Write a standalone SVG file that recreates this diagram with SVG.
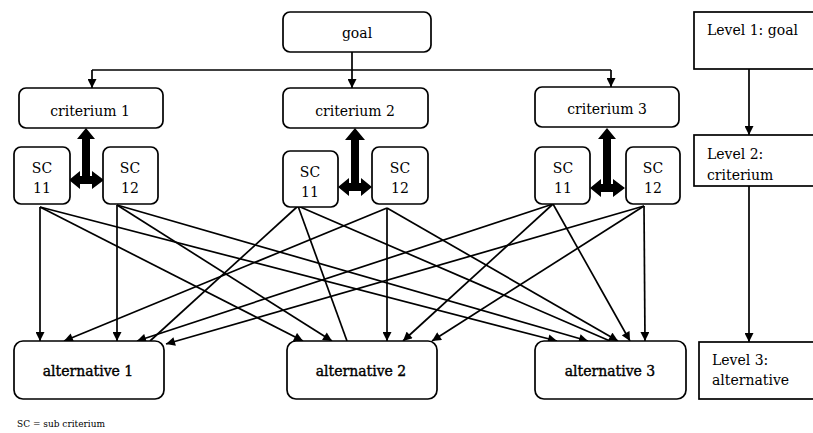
<svg xmlns="http://www.w3.org/2000/svg" width="813" height="433" viewBox="0 0 813 433">
<style>
.box{fill:#fff;stroke:#000;stroke-width:1.7}
.t{font-family:"DejaVu Serif","Liberation Serif",serif;font-size:14px;fill:#000;text-anchor:middle}
.tb{stroke:#000;stroke-width:0.4}
.tl{font-family:"DejaVu Serif","Liberation Serif",serif;font-size:14px;fill:#000}
.c{fill:none;stroke:#000;stroke-width:1.7}
.a{marker-end:url(#ah)}
.thick{fill:#000;stroke:none}
</style>
<defs>
<marker id="ah" viewBox="0 0 10 10" refX="10" refY="5" markerUnits="userSpaceOnUse" markerWidth="10" markerHeight="9" orient="auto">
<path d="M0,0 L10,5 L0,10 z" fill="#000"/>
</marker>
</defs>
<rect width="813" height="433" fill="#fff"/>

<g id="connectors">
<path class="c" d="M352,52 V88" marker-end="url(#ah)"/>
<path class="c" d="M92,70 H611"/>
<path class="c" d="M92,70 V88" marker-end="url(#ah)"/>
<path class="c" d="M611,70 V87" marker-end="url(#ah)"/>
<path class="c" d="M749,69 V135" marker-end="url(#ah)"/>
<path class="c" d="M749,186 V342" marker-end="url(#ah)"/>
<!-- SC11_1 -->
<line class="c a" x1="40" y1="207" x2="40" y2="341"/>
<line class="c a" x1="40" y1="207" x2="303" y2="341"/>
<line class="c a" x1="40" y1="207" x2="557" y2="341"/>
<!-- SC12_1 -->
<line class="c a" x1="117" y1="205" x2="117" y2="341"/>
<line class="c a" x1="117" y1="205" x2="332" y2="341"/>
<line class="c a" x1="117" y1="205" x2="588" y2="341"/>
<!-- SC11_2 -->
<line class="c" x1="298" y1="206" x2="150" y2="341"/>
<line class="c" x1="298" y1="206" x2="347" y2="341"/>
<line class="c" x1="298" y1="206" x2="610" y2="341"/>
<!-- SC12_2 -->
<line class="c a" x1="387" y1="208" x2="64" y2="341"/>
<line class="c a" x1="387" y1="208" x2="387" y2="341"/>
<line class="c a" x1="387" y1="208" x2="618" y2="341"/>
<!-- SC11_3 -->
<line class="c a" x1="553" y1="204" x2="137" y2="341"/>
<line class="c a" x1="553" y1="204" x2="403" y2="341"/>
<line class="c a" x1="553" y1="204" x2="630" y2="341"/>
<!-- SC12_3 -->
<line class="c a" x1="644" y1="206" x2="166" y2="344"/>
<line class="c a" x1="644" y1="206" x2="432" y2="341"/>
<line class="c a" x1="644" y1="206" x2="645" y2="341"/>
<!-- thick double arrows -->
<path class="thick" d="M86,128 L95,139 L90,139 L90,184 L82,184 L82,139 L77,139 Z"/>
<path class="thick" d="M69,180 L80,171 L80,176 L92,176 L92,171 L104,180 L92,189 L92,184 L80,184 L80,189 Z"/>
<path class="thick" d="M355,128 L365,140 L359,140 L359,191 L351,191 L351,140 L345,140 Z"/>
<path class="thick" d="M338,187 L349,178 L349,183 L361,183 L361,178 L372,187 L361,196 L361,191 L349,191 L349,196 Z"/>
<path class="thick" d="M607,128 L616,139 L611,139 L611,192 L603,192 L603,139 L598,139 Z"/>
<path class="thick" d="M590,188 L601,179 L601,184 L613,184 L613,179 L625,188 L613,197 L613,192 L601,192 L601,197 Z"/>
</g>

<g id="goal"><rect class="box" x="283" y="12" width="148" height="40" rx="7"/><text class="t" x="357" y="38">goal</text></g>
<g id="criterium1"><rect class="box" x="19" y="88" width="144" height="40" rx="7"/><text class="t" x="90" y="116">criterium 1</text></g>
<g id="criterium2"><rect class="box" x="283" y="88" width="145" height="40" rx="7"/><text class="t" x="355" y="116">criterium 2</text></g>
<g id="criterium3"><rect class="box" x="535" y="87" width="144" height="40" rx="7"/><text class="t" x="607" y="114">criterium 3</text></g>

<g id="sc11_1"><rect class="box" x="14" y="147" width="56" height="57" rx="7"/><text class="t" x="42" y="173">SC</text><text class="t" x="42" y="193">11</text></g>
<g id="sc12_1"><rect class="box" x="103" y="147" width="55" height="57" rx="7"/><text class="t" x="130" y="173">SC</text><text class="t" x="130" y="193">12</text></g>
<g id="sc11_2"><rect class="box" x="283" y="151" width="55" height="56" rx="7"/><text class="t" x="310" y="177">SC</text><text class="t" x="310" y="197">11</text></g>
<g id="sc12_2"><rect class="box" x="372" y="147" width="56" height="57" rx="7"/><text class="t" x="400" y="173">SC</text><text class="t" x="400" y="193">12</text></g>
<g id="sc11_3"><rect class="box" x="535" y="147" width="55" height="57" rx="7"/><text class="t" x="563" y="173">SC</text><text class="t" x="563" y="193">11</text></g>
<g id="sc12_3"><rect class="box" x="626" y="147" width="54" height="57" rx="7"/><text class="t" x="653" y="173">SC</text><text class="t" x="653" y="193">12</text></g>

<g id="alternative1"><rect class="box" x="14" y="341" width="150" height="58" rx="9"/><text class="t tb" x="88" y="376">alternative 1</text></g>
<g id="alternative2"><rect class="box" x="287" y="341" width="150" height="58" rx="9"/><text class="t tb" x="361" y="376">alternative 2</text></g>
<g id="alternative3"><rect class="box" x="535" y="341" width="151" height="58" rx="9"/><text class="t tb" x="610" y="376">alternative 3</text></g>

<g id="level1"><rect class="box" x="694" y="12" width="130" height="57"/><text class="tl" x="707" y="35">Level 1: goal</text></g>
<g id="level2"><rect class="box" x="694" y="135" width="130" height="51"/><text class="tl" x="707" y="159">Level 2:</text><text class="tl" x="707" y="180">criterium</text></g>
<g id="level3"><rect class="box" x="699" y="342" width="130" height="57"/><text class="tl" x="712" y="365">Level 3:</text><text class="tl" x="712" y="385">alternative</text></g>

<g id="legend"><text style="font-family:'DejaVu Serif','Liberation Serif',serif;font-size:9px" x="17" y="427">SC = sub criterium</text></g>
</svg>
